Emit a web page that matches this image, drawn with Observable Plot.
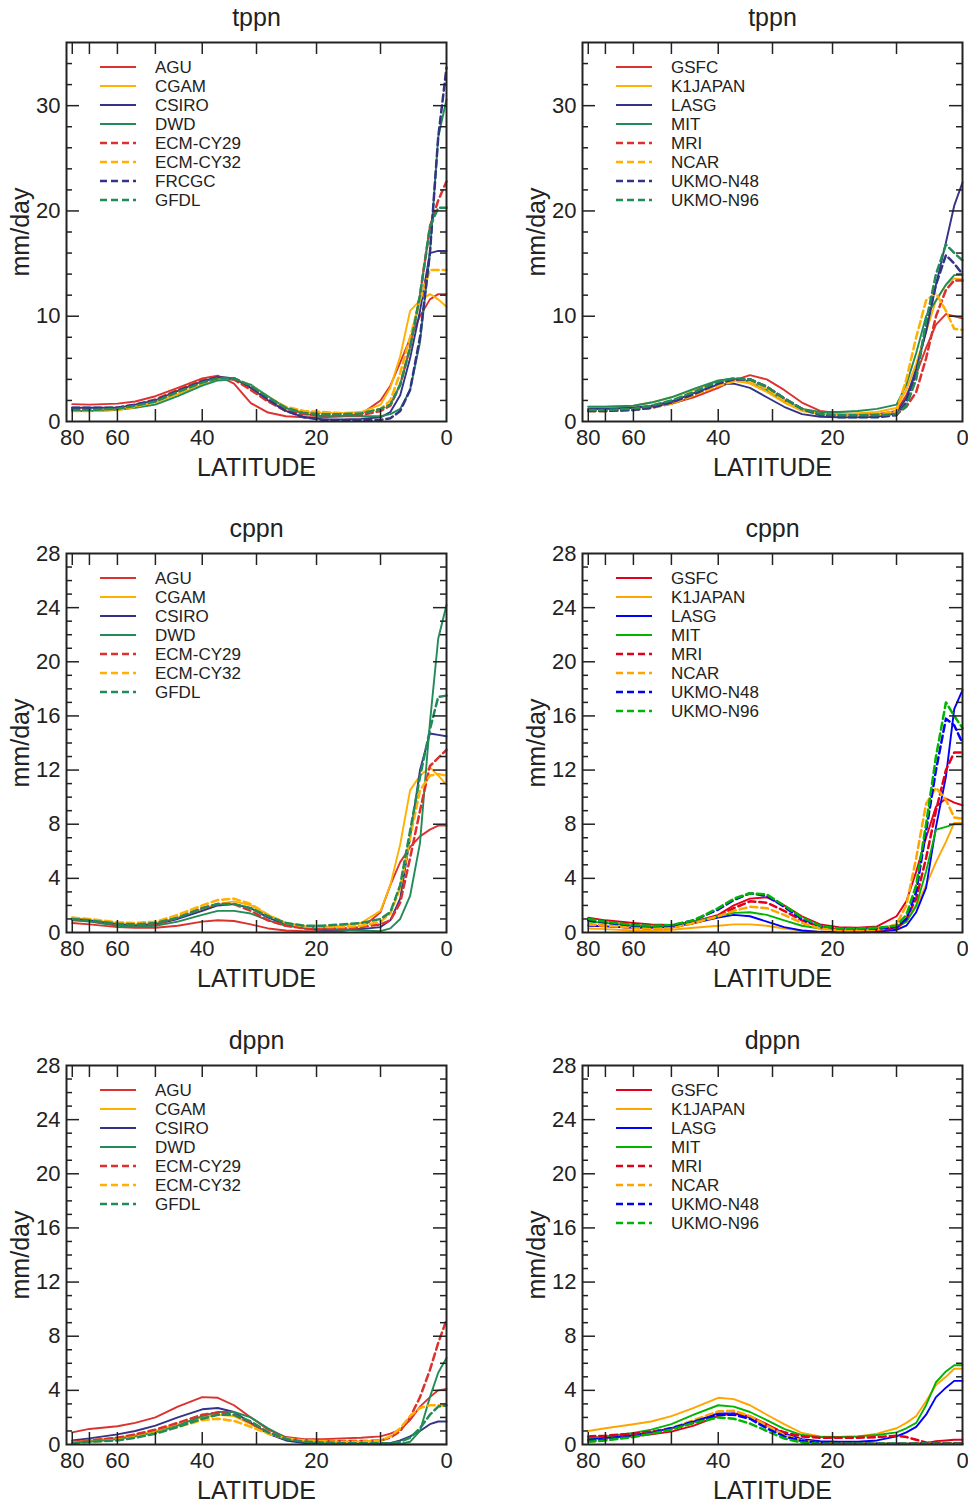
<!DOCTYPE html>
<html><head><meta charset="utf-8">
<script src="https://cdn.jsdelivr.net/npm/d3@7"></script>
<script src="https://cdn.jsdelivr.net/npm/@observablehq/plot@0.6"></script>
<style>
body{margin:0;background:#fff;}
#root{position:relative;width:968px;height:1504px;overflow:hidden;font-family:"Liberation Sans",Arial,Helvetica,sans-serif;}
.panel{position:absolute;}
.panel svg.legend{position:absolute;left:0;top:0;pointer-events:none;}
</style></head><body><div id="root"></div>
<script>
// ---------- data ----------
const lat = [80,70,60,55,50,45,40,37,34,31,28,25,22,19,16,13,10,8.5,7,5.5,4,2.5,1.25,0];
const xTickLats = [80,70,60,50,40,30,20,10];
const xLabelLats = [80,60,40,20,0];
const modelsA = ["AGU","CGAM","CSIRO","DWD","ECM-CY29","ECM-CY32","FRCGC","GFDL"];
const modelsB = ["GSFC","K1JAPAN","LASG","MIT","MRI","NCAR","UKMO-N48","UKMO-N96"];
const modelsC = ["AGU","CGAM","CSIRO","DWD","ECM-CY29","ECM-CY32","GFDL"];
const paletteMuted = ["#dc322f","#ffb000","#333388","#228b57"];
const paletteBright = ["#e4001c","#ffa500","#0000ff","#00b400"];
const yTicksTop = [0,10,20,30];
const yTicksLow = [0,4,8,12,16,20,24,28];

const tppnLeft = {
  "AGU":      [1.65,1.6,1.7,1.9,2.4,3.2,4.1,4.35,3.6,1.75,0.85,0.5,0.4,0.4,0.5,0.7,2.0,3.4,5.6,7.9,10.0,11.6,12.1,12.1],
  "CGAM":     [1.0,1.0,1.1,1.4,1.8,2.6,3.5,4.0,4.1,3.2,2.0,1.2,0.9,0.8,0.8,0.9,1.6,3.2,6.2,10.5,11.5,12.1,11.6,10.9],
  "CSIRO":    [1.3,1.3,1.3,1.6,2.0,2.9,3.8,4.2,4.1,3.2,2.0,1.0,0.4,0.2,0.2,0.25,0.4,0.9,2.5,6.0,10.5,16.0,16.2,16.2],
  "DWD":      [1.0,1.0,1.1,1.3,1.6,2.4,3.4,3.9,4.0,3.5,2.4,1.3,0.7,0.5,0.5,0.5,0.5,0.7,1.2,3.0,7.5,16.0,27.0,30.6],
  "ECM-CY29": [1.2,1.2,1.3,1.6,2.1,3.0,3.9,4.2,4.0,3.0,1.9,1.0,0.7,0.6,0.6,0.6,1.0,1.5,3.5,7.0,12.0,18.5,21.0,22.8],
  "ECM-CY32": [1.0,1.0,1.1,1.4,1.9,2.8,3.7,4.1,4.1,3.4,2.3,1.4,1.0,0.9,0.8,0.8,1.2,2.0,4.6,8.0,11.5,14.4,14.4,14.4],
  "FRCGC":    [1.3,1.3,1.3,1.6,2.0,2.9,3.8,4.2,4.1,3.3,2.1,1.0,0.4,0.15,0.1,0.1,0.15,0.3,1.0,3.0,8.0,16.0,27.0,33.6],
  "GFDL":     [1.1,1.1,1.2,1.5,1.9,2.8,3.7,4.1,4.1,3.4,2.3,1.3,0.8,0.7,0.7,0.75,1.2,1.6,3.5,7.0,12.0,18.5,20.3,20.3]
};
const tppnRight = {
  "GSFC":     [1.2,1.2,1.3,1.4,1.7,2.3,3.2,3.9,4.4,4.0,3.0,1.8,1.0,0.8,0.7,0.7,1.0,2.5,4.5,7.0,9.2,10.2,10.0,9.8],
  "K1JAPAN":  [1.4,1.4,1.5,1.8,2.3,3.0,3.8,3.9,3.6,2.8,1.8,1.0,0.7,0.7,0.8,0.9,1.3,3.0,5.5,8.5,11.5,13.0,13.6,13.5],
  "LASG":     [1.2,1.2,1.3,1.5,1.9,2.7,3.5,3.6,3.2,2.3,1.4,0.7,0.45,0.4,0.4,0.45,0.8,2.2,5.0,8.5,13.0,17.0,20.5,22.7],
  "MIT":      [1.4,1.4,1.5,1.8,2.3,3.1,3.9,4.1,3.8,3.0,2.0,1.2,0.9,0.9,1.0,1.2,1.6,3.5,6.5,10.0,11.5,13.0,13.9,13.9],
  "MRI":      [1.0,1.0,1.1,1.3,1.7,2.4,3.4,3.9,4.0,3.3,2.2,1.2,0.7,0.6,0.6,0.6,0.7,1.4,2.8,6.0,10.0,12.5,13.4,13.4],
  "NCAR":     [1.0,1.0,1.1,1.3,1.7,2.5,3.4,3.8,3.8,3.1,2.0,1.1,0.7,0.6,0.6,0.6,1.0,4.0,8.0,11.5,12.2,10.5,8.8,8.7],
  "UKMO-N48": [1.0,1.0,1.1,1.3,1.8,2.6,3.6,4.0,4.0,3.3,2.2,1.2,0.6,0.4,0.4,0.4,0.6,1.8,4.5,9.0,13.0,15.8,15.0,14.0],
  "UKMO-N96": [1.1,1.1,1.2,1.5,2.0,2.8,3.8,4.1,4.0,3.3,2.2,1.2,0.7,0.6,0.6,0.6,0.7,1.5,4.0,9.5,14.0,16.8,16.0,15.3]
};
const cppnLeft = {
  "AGU":      [0.7,0.6,0.4,0.35,0.35,0.5,0.8,0.9,0.85,0.6,0.3,0.15,0.1,0.1,0.1,0.3,1.5,3.5,5.2,6.3,7.1,7.6,7.9,7.9],
  "CGAM":     [1.1,0.9,0.7,0.6,0.7,1.1,1.7,2.1,2.3,2.0,1.3,0.7,0.45,0.4,0.5,0.7,1.6,3.5,6.5,10.5,11.6,12.2,11.6,10.9],
  "CSIRO":    [1.0,0.9,0.6,0.5,0.6,1.0,1.6,2.0,2.1,1.8,1.1,0.6,0.3,0.2,0.2,0.25,0.4,0.9,2.5,7.0,12.0,14.7,14.6,14.5],
  "DWD":      [0.9,0.8,0.5,0.4,0.5,0.8,1.3,1.6,1.6,1.4,0.9,0.5,0.35,0.3,0.2,0.15,0.1,0.3,1.0,2.7,6.6,15.5,21.7,24.2],
  "ECM-CY29": [1.0,0.9,0.6,0.55,0.6,1.1,1.8,2.1,2.1,1.6,0.9,0.5,0.3,0.3,0.3,0.4,0.6,0.9,2.2,5.5,9.0,12.3,12.9,13.5],
  "ECM-CY32": [1.1,1.0,0.75,0.7,0.8,1.3,2.0,2.4,2.5,2.1,1.3,0.7,0.45,0.4,0.4,0.5,0.8,1.4,3.3,7.0,10.5,11.6,11.7,11.6],
  "GFDL":     [1.0,0.9,0.65,0.6,0.7,1.1,1.8,2.1,2.1,1.8,1.2,0.7,0.5,0.5,0.6,0.7,1.0,1.5,3.5,7.5,11.5,15.0,17.4,17.5]
};
const cppnRight = {
  "GSFC":     [1.1,0.9,0.7,0.6,0.55,0.8,1.3,2.0,2.5,2.6,2.0,1.2,0.6,0.4,0.35,0.45,1.2,2.3,4.5,7.0,9.3,9.9,9.6,9.4],
  "K1JAPAN":  [0.3,0.25,0.15,0.15,0.2,0.35,0.5,0.6,0.6,0.5,0.3,0.15,0.05,0.05,0.05,0.1,0.3,0.8,1.9,3.5,5.2,6.7,8.1,8.1],
  "LASG":     [0.5,0.45,0.35,0.35,0.4,0.7,1.1,1.3,1.2,0.8,0.4,0.15,0.05,0.02,0.02,0.05,0.2,0.5,1.5,3.3,7.8,11.5,16.5,17.9],
  "MIT":      [0.8,0.7,0.5,0.45,0.5,0.8,1.2,1.45,1.5,1.3,0.9,0.5,0.3,0.25,0.25,0.3,0.4,0.8,2.0,4.5,7.6,7.8,8.0,8.0],
  "MRI":      [0.6,0.5,0.35,0.3,0.35,0.7,1.2,1.8,2.3,2.2,1.6,0.9,0.4,0.2,0.15,0.2,0.3,1.0,2.5,5.5,9.0,12.0,13.3,13.3],
  "NCAR":     [0.6,0.5,0.35,0.3,0.35,0.7,1.2,1.6,1.9,1.8,1.3,0.7,0.3,0.15,0.15,0.2,0.6,2.0,5.5,9.5,10.7,9.8,8.5,8.4],
  "UKMO-N48": [0.9,0.75,0.5,0.45,0.5,0.9,1.7,2.4,2.9,2.7,1.9,1.0,0.5,0.3,0.3,0.3,0.4,1.0,3.0,7.5,12.0,15.8,15.3,14.0],
  "UKMO-N96": [1.0,0.8,0.55,0.5,0.55,0.9,1.8,2.5,2.9,2.8,2.0,1.1,0.5,0.3,0.3,0.35,0.5,1.3,3.5,8.0,13.0,17.0,16.0,15.1]
};
const dppnLeft = {
  "AGU":      [0.9,1.15,1.35,1.6,2.0,2.8,3.5,3.45,2.9,2.0,1.1,0.55,0.4,0.4,0.45,0.5,0.6,0.8,1.1,1.8,2.8,3.5,4.0,4.1],
  "CGAM":     [0.2,0.3,0.5,0.7,1.0,1.5,2.0,2.2,2.1,1.5,0.8,0.35,0.15,0.1,0.05,0.03,0.02,0.02,0.02,0.02,0.02,0.02,0.02,0.02],
  "CSIRO":    [0.3,0.45,0.75,1.0,1.4,2.0,2.6,2.7,2.4,1.6,0.8,0.3,0.1,0.05,0.05,0.05,0.05,0.1,0.3,0.6,1.0,1.5,1.7,1.7],
  "DWD":      [0.15,0.2,0.4,0.6,0.9,1.4,2.1,2.4,2.4,2.0,1.2,0.5,0.2,0.1,0.05,0.03,0.02,0.02,0.05,0.2,1.0,3.5,5.3,6.4],
  "ECM-CY29": [0.2,0.3,0.5,0.75,1.1,1.6,2.2,2.35,2.2,1.6,0.9,0.45,0.3,0.25,0.25,0.25,0.3,0.5,1.0,2.0,3.5,5.5,7.5,9.2],
  "ECM-CY32": [0.15,0.2,0.35,0.55,0.85,1.3,1.8,1.9,1.75,1.3,0.8,0.45,0.3,0.25,0.2,0.2,0.3,0.6,1.2,2.1,2.7,2.9,2.9,2.85],
  "GFDL":     [0.1,0.2,0.3,0.5,0.8,1.3,1.9,2.2,2.2,1.7,0.9,0.4,0.2,0.15,0.1,0.1,0.1,0.1,0.2,0.5,1.2,2.2,2.8,2.9]
};
const dppnRight = {
  "GSFC":     [0.4,0.5,0.6,0.75,0.95,1.4,2.1,2.3,2.1,1.5,0.8,0.35,0.2,0.15,0.1,0.05,0.05,0.05,0.1,0.1,0.25,0.3,0.35,0.35],
  "K1JAPAN":  [1.0,1.2,1.5,1.7,2.1,2.7,3.45,3.35,2.9,2.2,1.5,0.85,0.6,0.55,0.6,0.8,1.2,1.6,2.1,3.2,4.4,5.0,5.6,5.6],
  "LASG":     [0.4,0.5,0.7,0.9,1.2,1.7,2.3,2.3,2.0,1.4,0.8,0.4,0.25,0.2,0.2,0.3,0.6,0.9,1.3,2.2,3.5,4.2,4.7,4.7],
  "MIT":      [0.5,0.6,0.85,1.1,1.5,2.2,2.9,2.8,2.4,1.8,1.15,0.7,0.55,0.55,0.6,0.7,0.9,1.2,1.6,2.9,4.6,5.4,5.85,5.85],
  "MRI":      [0.6,0.65,0.8,0.95,1.2,1.6,2.2,2.25,2.0,1.4,0.9,0.6,0.5,0.5,0.5,0.55,0.65,0.55,0.35,0.15,0.1,0.1,0.1,0.1],
  "NCAR":     [0.2,0.35,0.6,0.85,1.2,1.8,2.45,2.5,2.1,1.4,0.7,0.3,0.1,0.05,0.05,0.05,0.05,0.05,0.05,0.05,0.05,0.05,0.05,0.05],
  "UKMO-N48": [0.25,0.35,0.6,0.85,1.2,1.7,2.2,2.2,1.9,1.2,0.6,0.25,0.1,0.05,0.05,0.05,0.05,0.05,0.05,0.05,0.05,0.05,0.05,0.05],
  "UKMO-N96": [0.2,0.3,0.55,0.8,1.1,1.6,2.0,1.9,1.55,1.0,0.45,0.15,0.05,0.05,0.05,0.05,0.05,0.05,0.05,0.05,0.05,0.05,0.05,0.05]
};

// ---------- drawing ----------
const FONT = '"Liberation Sans", Arial, Helvetica, sans-serif';
const INK = "#222";
const toS = d => Math.sin(d * Math.PI / 180);
const labelOf = new Map(xLabelLats.map(l => [toS(l), String(l)]));
const range = (a, b, s) => d3.range(a, b + 1e-9, s);
// style slot of each model: colour = slot % 4, dashed when slot >= 4
const slotOf = m => (modelsA.includes(m) ? modelsA.indexOf(m) : modelsB.indexOf(m));

const panels = [
  {title: "tppn", models: modelsA, data: tppnLeft,  yMax: 36, yTicks: yTicksTop, minorStep: 2, palette: paletteMuted,  col: 0, row: 0},
  {title: "tppn", models: modelsB, data: tppnRight, yMax: 36, yTicks: yTicksTop, minorStep: 2, palette: paletteMuted,  col: 1, row: 0},
  {title: "cppn", models: modelsC, data: cppnLeft,  yMax: 28, yTicks: yTicksLow, minorStep: 1, palette: paletteMuted,  col: 0, row: 1},
  {title: "cppn", models: modelsB, data: cppnRight, yMax: 28, yTicks: yTicksLow, minorStep: 1, palette: paletteBright, col: 1, row: 1},
  {title: "dppn", models: modelsC, data: dppnLeft,  yMax: 28, yTicks: yTicksLow, minorStep: 1, palette: paletteMuted,  col: 0, row: 2},
  {title: "dppn", models: modelsB, data: dppnRight, yMax: 28, yTicks: yTicksLow, minorStep: 1, palette: paletteBright, col: 1, row: 2}
];

const root = document.getElementById("root");
const FW = 380, FH = 379, ML = 66, MT = 42, SVGH = 481;
const colLeft = [0, 516], rowTop = [0, 511, 1023];

for (const p of panels) {
  const svgW = p.col === 0 ? 484 : 452;
  const MR = svgW - ML - FW;
  const MB = SVGH - MT - FH;
  const minor = range(0, p.yMax, p.minorStep).filter(v => !p.yTicks.includes(v) && v < p.yMax);
  const major = p.yTicks.filter(v => v > 0 && v < p.yMax);

  const lineMarks = p.models.map(m => {
    const s = slotOf(m);
    const rows = p.data[m].map((v, j) => ({lat: lat[j], v}));
    const dashed = s >= 4;
    return Plot.line(rows, {
      x: d => toS(d.lat), y: "v",
      stroke: p.palette[s % 4],
      strokeWidth: dashed ? 2.5 : 1.9,
      strokeDasharray: dashed ? "7,4" : null,
      strokeLinejoin: "round"
    });
  });

  const plot = Plot.plot({
    width: svgW, height: SVGH,
    marginLeft: ML, marginRight: MR, marginTop: MT, marginBottom: MB,
    x: {domain: [1, 0]},
    y: {domain: [0, p.yMax]},
    style: {fontFamily: FONT, fontSize: "22px", color: INK, background: "white", overflow: "visible"},
    marks: [
      ...lineMarks,
      Plot.tickY(major, {y: d => d, insetRight: FW - 13, stroke: INK, strokeWidth: 1.5}),
      Plot.tickY(major, {y: d => d, insetLeft: FW - 13, stroke: INK, strokeWidth: 1.5}),
      Plot.tickY(minor, {y: d => d, insetRight: FW - 6, stroke: INK, strokeWidth: 1.5}),
      Plot.tickY(minor, {y: d => d, insetLeft: FW - 6, stroke: INK, strokeWidth: 1.5}),
      Plot.tickX(xTickLats, {x: toS, insetTop: FH - 12, stroke: INK, strokeWidth: 1.5}),
      Plot.tickX(xTickLats, {x: toS, insetBottom: FH - 12, stroke: INK, strokeWidth: 1.5}),
      Plot.frame({stroke: INK, strokeWidth: 2}),
      Plot.axisY({ticks: p.yTicks, tickSize: 0, tickPadding: 6, fontSize: 22, label: null}),
      Plot.axisX({ticks: xLabelLats.map(toS), tickFormat: s => labelOf.get(s), tickSize: 0, tickPadding: 8, fontSize: 22, label: null}),
      Plot.text([p.title], {frameAnchor: "top", dy: -25, fontSize: 25, fill: INK, textAnchor: "middle", lineAnchor: "middle"}),
      Plot.text(["mm/day"], {frameAnchor: "left", dx: -46, rotate: -90, fontSize: 25, fill: INK, textAnchor: "middle", lineAnchor: "middle"}),
      Plot.text(["LATITUDE"], {frameAnchor: "bottom", dy: 46, fontSize: 25, fill: INK, textAnchor: "middle", lineAnchor: "middle"})
    ]
  });

  const div = document.createElement("div");
  div.className = "panel";
  div.style.left = colLeft[p.col] + "px";
  div.style.top = rowTop[p.row] + "px";
  div.style.width = svgW + "px";
  div.style.height = SVGH + "px";
  div.appendChild(plot);
  root.appendChild(div);

  // legend overlay
  const lg = d3.select(div).append("svg").attr("class", "legend")
    .attr("width", svgW).attr("height", SVGH);
  p.models.forEach((m, i) => {
    const s = slotOf(m);
    const y = MT + 25 + 19 * i;
    const dashed = s >= 4;
    lg.append("line")
      .attr("x1", ML + 34).attr("x2", ML + 70).attr("y1", y).attr("y2", y)
      .attr("stroke", p.palette[s % 4])
      .attr("stroke-width", dashed ? 2.5 : 2)
      .attr("stroke-dasharray", dashed ? "7,4" : null);
    lg.append("text")
      .attr("x", ML + 89).attr("y", y).attr("dy", "0.36em")
      .attr("font-family", FONT).attr("font-size", 17).attr("fill", INK)
      .text(m);
  });
}
</script></body></html>
